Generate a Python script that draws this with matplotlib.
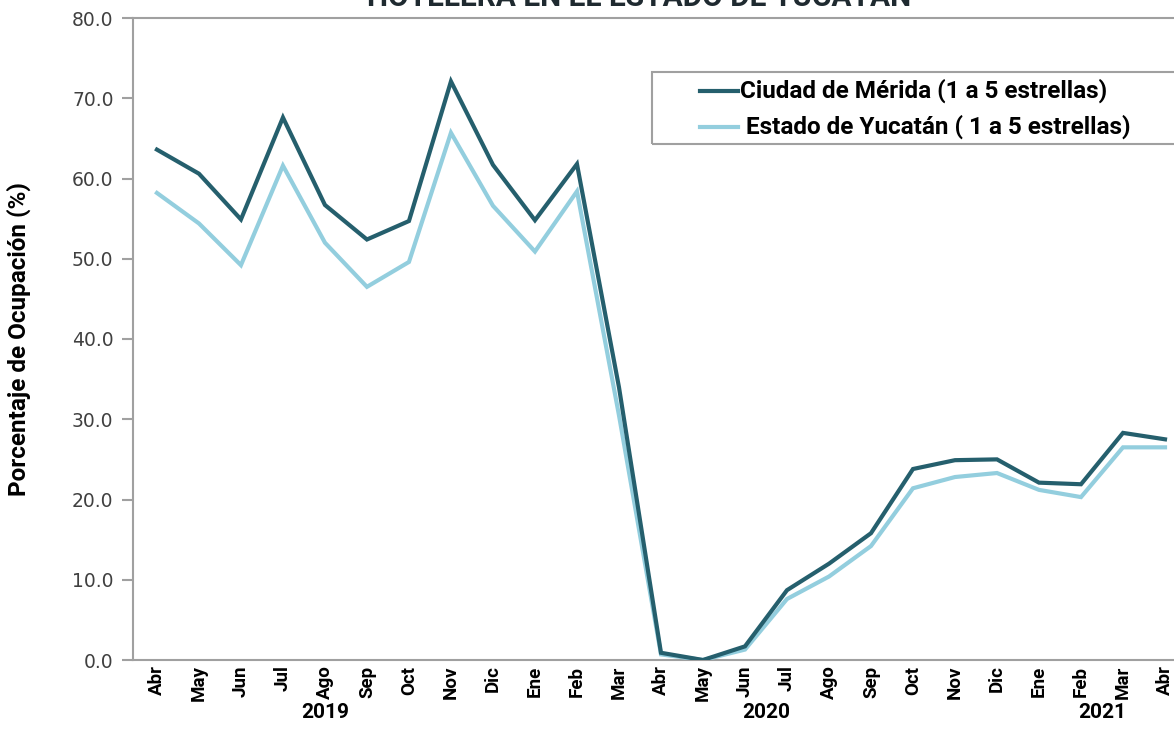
import matplotlib
matplotlib.use("Agg")
import matplotlib.pyplot as plt
from matplotlib.patches import Rectangle
from matplotlib.lines import Line2D

months = ["Abr", "May", "Jun", "Jul", "Ago", "Sep", "Oct", "Nov", "Dic",
          "Ene", "Feb", "Mar", "Abr", "May", "Jun", "Jul", "Ago", "Sep",
          "Oct", "Nov", "Dic", "Ene", "Feb", "Mar", "Abr"]
merida = [63.6, 60.6, 54.9, 67.6, 56.7, 52.4, 54.7, 72.1, 61.7,
          54.8, 61.8, 34.0, 0.9, 0.0, 1.7, 8.7, 12.0, 15.8,
          23.8, 24.9, 25.0, 22.1, 21.9, 28.3, 27.5]
yucatan = [58.2, 54.4, 49.2, 61.6, 52.0, 46.5, 49.6, 65.7, 56.6,
           50.9, 58.4, 30.5, 0.7, 0.0, 1.3, 7.6, 10.4, 14.2,
           21.4, 22.8, 23.3, 21.2, 20.3, 26.5, 26.5]
years = ["2019", "2020", "2021"]
year_spans = [(0, 8), (9, 20), (21, 24)]
yticks = [0, 10, 20, 30, 40, 50, 60, 70, 80]

label_merida = "Ciudad de Mérida (1 a 5 estrellas)"
label_yuc = " Estado de Yucatán ( 1 a 5 estrellas)"
title = "HOTELERA EN EL ESTADO DE YUCATÁN"
ylabel = "Porcentaje de Ocupación (%)"

c_dark = "#255F6D"
c_light = "#93CEDE"
c_axis = "#A0A0A0"
BOLD = dict(family="Roboto", fontweight="bold")

W, H = 1174, 747
fig = plt.figure(figsize=(W / 100, H / 100), dpi=100)
left_px, right_px, top_px, bot_px = 133, 1186, 18, 660
ax = fig.add_axes([left_px / W, (H - bot_px) / H, (right_px - left_px) / W, (bot_px - top_px) / H])

x = list(range(len(months)))
ax.plot(x, yucatan, color=c_light, lw=3.0, solid_joinstyle="miter", zorder=3)
ax.plot(x, merida, color=c_dark, lw=3.0, solid_joinstyle="miter", zorder=4)

ax.set_xlim(-0.57, 24.5)
ax.set_ylim(0, 80)
ax.set_yticks(yticks)
ax.set_yticklabels([f"{v:.1f}" for v in yticks], fontsize=13.5, color="#404040", family="DejaVu Sans")
ax.set_xticks(x)
ax.set_xticklabels(months, rotation=90, fontsize=13.5, color="black", **BOLD)
ax.tick_params(axis="x", length=0, pad=4)
ax.tick_params(axis="y", length=8, width=1.5, color=c_axis, pad=6)

for s in ["top", "right"]:
    ax.spines[s].set_visible(False)
for s in ["left", "bottom"]:
    ax.spines[s].set_color(c_axis)
    ax.spines[s].set_linewidth(1.5)
ax.axhline(80, color=c_axis, lw=1.5, clip_on=False, zorder=1)

ax.set_ylabel(ylabel, fontsize=17.5, **BOLD)
ax.yaxis.set_label_coords((31 - left_px) / (right_px - left_px), 0.5)

for yr, (a, b) in zip(years, year_spans):
    xc = (a + b) / 2
    ax.annotate(yr, xy=(xc, 0), xycoords=("data", "axes fraction"),
                xytext=(0, -(718 - bot_px) * 0.72), textcoords="offset points",
                ha="center", va="baseline", fontsize=15, **BOLD)

# title (partially cut off at the top of the image)
fig.text(639 / W, (H - 6) / H, title, ha="center", va="baseline",
         fontsize=21.5, color="#1F2A30", **BOLD)

# legend box
fig.patches.append(Rectangle((652 / W, (H - 144) / H), (1200 - 652) / W, 72 / H,
                             transform=fig.transFigure, fill=False,
                             edgecolor=c_axis, lw=1.5))
for yy, col, lab in [(91, c_dark, label_merida), (127, c_light, label_yuc)]:
    fig.lines.append(Line2D([700 / W, 738 / W], [(H - yy) / H] * 2,
                            transform=fig.transFigure, color=col, lw=3.0))
    fig.text(740 / W, (H - yy) / H, lab, ha="left", va="center",
             fontsize=17.5, color="black", **BOLD)

fig.savefig("out.png", dpi=100)
